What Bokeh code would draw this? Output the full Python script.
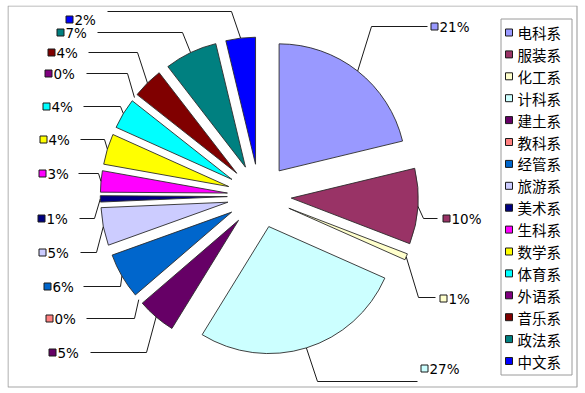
import math
from bokeh.plotting import figure
from bokeh.models import ColumnDataSource, Range1d
from bokeh.embed import file_html
from bokeh.resources import INLINE
from bokeh.core.properties import value

# ---------------- data ----------------
departments = ["电科系", "服装系", "化工系", "计科系", "建土系", "教科系", "经管系", "旅游系",
               "美术系", "生科系", "数学系", "体育系", "外语系", "音乐系", "政法系", "中文系"]
# slice shares as drawn (percent)
shares = [21.2, 9.6, 0.8, 27.1, 4.9, 0.0, 5.8, 4.8, 0.8, 2.7, 3.9, 3.9, 0.0, 3.9, 6.7, 3.75]
# percentage labels as printed on the chart
pct_labels = ["21%", "10%", "1%", "27%", "5%", "0%", "6%", "5%", "1%", "3%", "4%", "4%",
              "0%", "4%", "7%", "2%"]
colors = ["#9999FF", "#993366", "#FFFFCC", "#CCFFFF", "#660066", "#FF8080", "#0066CC", "#CCCCFF",
          "#000080", "#FF00FF", "#FFFF00", "#00FFFF", "#800080", "#800000", "#008080", "#0000FF"]

# ---------------- layout (screen pixels of the page) ----------------
FX, FY = 7, 5            # page position of the figure's top-left corner
W, H = 571, 383
CX, CY = 258.8, 195.5    # pie centre
R = 127                  # pie radius
D = 32                   # explosion distance

# label square centre (x, y), leader elbow x, leader horizontal y, leader end x
label_sq = [(434, 26), (446, 218), (443, 298), (424, 368), (52, 352), (49, 318), (47, 286),
            (42, 252), (41, 218), (42, 173), (43, 139), (46, 106), (48, 73), (51, 52),
            (60, 32), (69, 19)]
leader_elbow = [(371, 26, 427), (423, 218, 437), (418, 297, 435), (317, 381, 417),
                (146, 352, 90), (134, 318, 86), (120, 286, 83), (96, 252, 80),
                (94, 218, 79), (98, 173, 78), (104, 139, 80), (120, 106, 83),
                (127, 73, 86), (137, 52, 88), (182, 32, 97), (231, 11, 107)]

LEG_LEFT, LEG_RIGHT, LEG_TOP, LEG_BOTTOM = 500, 571, 18, 374
LEG_Y0, LEG_STEP = 32, 21.9

p = figure(width=W, height=H, output_backend="svg", toolbar_location=None,
           x_range=Range1d(FX, FX + W), y_range=Range1d(-(FY + H), -FY),
           min_border=0, background_fill_color="white", border_fill_color="white")
p.axis.visible = False
p.grid.visible = False
p.outline_line_color = None
p.styles = {"margin-left": "%dpx" % FX, "margin-top": "%dpx" % FY}

# outer chart border
p.quad(left=FX + 0.5, right=FX + W - 1.5, top=-(FY + 0.5), bottom=-(FY + H - 1.5),
       fill_color=None, line_color="#a6a6a6", line_width=1.2)

total = sum(shares)
wx, wy, sa, ea, wc = [], [], [], [], []
lxs, lys = [], []
cum = 0.0
for i, s in enumerate(shares):
    t0 = cum / total * 360.0
    t1 = (cum + s) / total * 360.0
    cum += s
    mid = math.radians((t0 + t1) / 2)
    ax = CX + D * math.sin(mid)
    ay = CY - D * math.cos(mid)
    if s > 0:
        wx.append(ax)
        wy.append(-ay)
        sa.append(math.radians(90 - t0))
        ea.append(math.radians(90 - t1))
        wc.append(colors[i])
    sx = ax + R * math.sin(mid)
    sy = ay - R * math.cos(mid)
    ex, ey, endx = leader_elbow[i]
    lxs.append([sx, ex, endx])
    lys.append([-sy, -ey, -ey])

wsrc = ColumnDataSource(dict(x=wx, y=wy, sa=sa, ea=ea, c=wc))
p.wedge(x="x", y="y", radius=R, radius_units="screen", start_angle="sa", end_angle="ea",
        direction="clock", fill_color="c", line_color="#2b2b2b", line_width=0.9, source=wsrc)

p.multi_line(xs=lxs, ys=lys, line_color="#1a1a1a", line_width=1)

# data labels: coloured square + percentage
lsrc = ColumnDataSource(dict(x=[q[0] for q in label_sq], y=[-q[1] for q in label_sq],
                             tx=[q[0] + 5 for q in label_sq], t=pct_labels, c=colors))
p.rect(x="x", y="y", width=7, height=7, width_units="screen", height_units="screen",
       fill_color="c", line_color="#1a1a1a", line_width=1, source=lsrc)
p.text(x="tx", y="y", text="t", text_align="left", text_baseline="middle",
       text_font=value("DejaVu Sans"), text_font_size="13.5px", text_color="black", source=lsrc)

# legend
p.quad(left=LEG_LEFT + 0.5, right=LEG_RIGHT + 0.5, top=-(LEG_TOP + 0.5), bottom=-(LEG_BOTTOM + 0.5),
       fill_color="white", line_color="#9a9a9a", line_width=1)
gy = [-(LEG_Y0 + i * LEG_STEP) for i in range(len(departments))]
gsrc = ColumnDataSource(dict(x=[508.5] * len(departments), y=gy, tx=[517] * len(departments),
                             t=departments, c=colors))
p.rect(x="x", y="y", width=7, height=7, width_units="screen", height_units="screen",
       fill_color="c", line_color="#1a1a1a", line_width=1, source=gsrc)
p.text(x="tx", y="y", text="t", text_align="left", text_baseline="middle",
       text_font=value("Noto Sans CJK SC"), text_font_size="14.5px", text_color="black", source=gsrc)

open("out.html", "w").write(file_html(p, INLINE))
